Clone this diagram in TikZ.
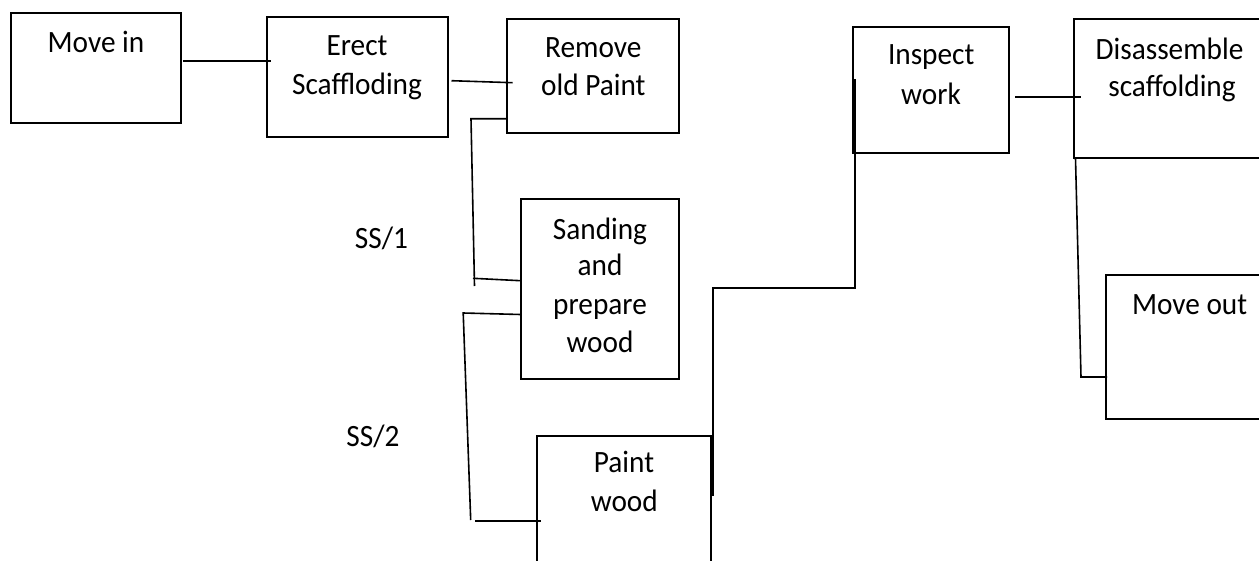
\documentclass[tikz,border=0pt]{standalone}
\usepackage{fontspec}
\setmainfont[FakeStretch=0.945]{Carlito}
\usetikzlibrary{calc}
\begin{document}
\begin{tikzpicture}[x=1pt,y=-1pt,
  box/.style={draw, line width=1.8pt, inner sep=0pt, outer sep=0pt},
  lbl/.style={inner sep=0pt, anchor=base, font=\fontsize{31}{39}\selectfont},
  conn/.style={line width=1.6pt}]
\useasboundingbox (0,0) rectangle (1259,560);
\clip (0,0) rectangle (1259,560);
% boxes
\node[box, minimum width=170.3pt, minimum height=110.3pt] (movein) at (95.85,67.85) {};
\node[box, minimum width=181pt, minimum height=120pt] (erect) at (357.2,76.7) {};
\node[box, minimum width=172.6pt, minimum height=113.7pt] (remove) at (593,75.85) {};
\node[box, minimum width=158.6pt, minimum height=180pt] (sanding) at (600,289) {};
\node[box, minimum width=174pt, minimum height=164.3pt] (paint) at (623.7,517.85) {};
\node[box, minimum width=156.6pt, minimum height=126.6pt] (inspect) at (931,90) {};
\node[box, minimum width=195.7pt, minimum height=139.3pt] (disasm) at (1172.15,88.65) {};
\node[box, minimum width=164pt, minimum height=144pt] (moveout) at (1188,347) {};
% texts
\node[lbl] (movein1) at (96,52.7) {Move in};
\node[lbl] (erect1) at (357,55) {Erect};
\node[lbl] (erect2) at (357,94.3) {Scaffloding};
\node[lbl] (remove1) at (593.3,57.3) {Remove};
\node[lbl] (remove2) at (593.3,95.7) {old Paint};
\node[lbl] (sanding1) at (600,239) {Sanding};
\node[lbl] (sanding2) at (600,275.7) {and};
\node[lbl] (sanding3) at (600,314.5) {prepare};
\node[lbl] (sanding4) at (600,352.3) {wood};
\node[lbl] (paint1) at (624,472.7) {Paint};
\node[lbl] (paint2) at (624.3,511.7) {wood};
\node[lbl] (inspect1) at (931.2,64.3) {Inspect};
\node[lbl] (inspect2) at (931,104) {work};
\node[lbl] (disasm1) at (1169.5,59.3) {Disassemble};
\node[lbl] (disasm2) at (1172,96.7) {scaffolding};
\node[lbl] (moveout1) at (1189.6,314) {Move out};
\node[lbl] (ss1) at (381.5,248.3) {SS/1};
\node[lbl] (ss2) at (373,446.7) {SS/2};
% connectors
\draw[conn] ($(movein.east)+(2,-6.85)$) -- ($(erect.west)+(4,-15.7)$);
\draw[conn] ($(erect.east)+(3.8,4)$) -- ($(remove.west)+(6,6.85)$);
\draw[conn] ($(remove.south west)+(0,-14)$) -- ++(-35.7,0) -- ++(3.5,167.3);
\draw[conn] ($(sanding.west)+(-47.7,-10.7)$) -- ($(sanding.west)+(0,-8.3)$);
\draw[conn] ($(sanding.west)+(0,25.5)$) -- ($(sanding.west)+(-57.5,24)$) -- ($(paint.west)+(-66,2.15)$);
\draw[conn] ($(paint.west)+(-61.7,2.85)$) -- ($(paint.west)+(4,2.85)$);
\draw[conn] ($(paint.east)+(2,-21.85)$) -- ++(0,-208.3) -- ++(142.3,0) -- ($(inspect.west)+(2.3,-11)$);
\draw[conn] ($(inspect.east)+(5.7,7)$) -- ($(disasm.west)+(6.4,8.35)$);
\draw[conn] ($(disasm.south west)+(1.2,0)$) -- ($(moveout.west)+(-25,30)$) -- ($(moveout.west)+(1,30)$);
\end{tikzpicture}
\end{document}
